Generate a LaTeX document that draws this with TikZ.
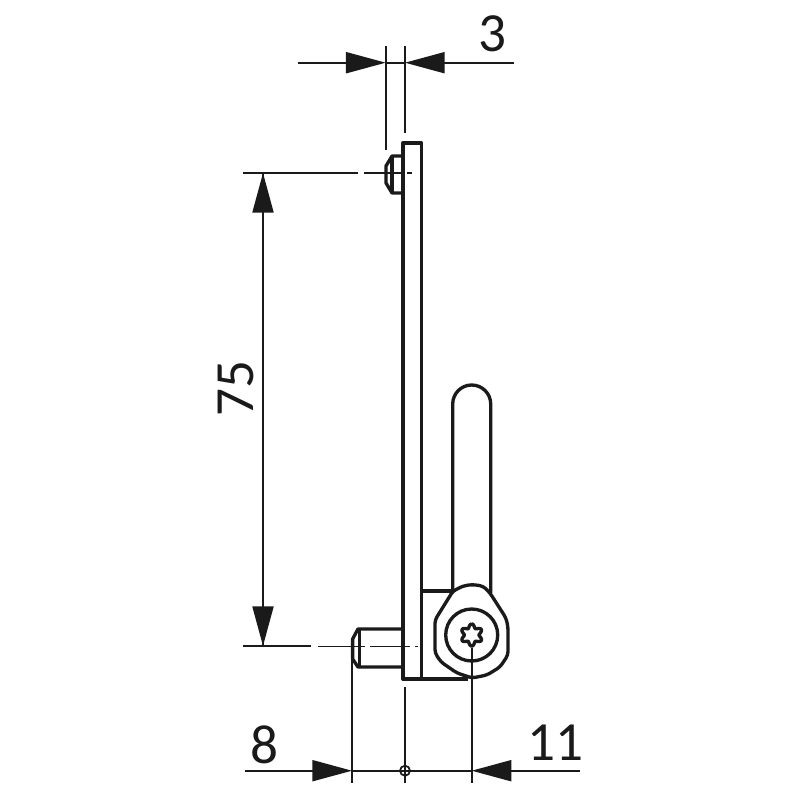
\documentclass[tikz,border=0pt]{standalone}
\usepackage{fontspec}
\setmainfont{Carlito}
\usetikzlibrary{arrows.meta}
\tikzstyle{drawing} = [x = .01cm, y = -.01cm]
\definecolor{partColor}{RGB}{26,26,26}
\tikzstyle{partLine} = [color=partColor, line width=.95pt, line join=round]
\tikzstyle{thinLine} = [color=partColor, line width=.5pt]
\tikzstyle{dimArrow} = [thinLine, -{Triangle[length=11.3pt, width=6pt]}]
\tikzstyle{dimText} = [font=\fontsize{15.7}{16}\selectfont, color=partColor, inner sep=0pt]
\newcommand{\extLine}[3]{\draw [thinLine] (#1, #2) -- (#1, #3);}
\begin{document}
\begin{tikzpicture}[drawing]
  \useasboundingbox (0,0) rectangle (800,800);
  % plate and screw pins
  \draw [partLine] (403,143) rectangle (421.5,679);
  \draw [partLine] (403,156) -- (392,156) -- (386,166) -- (386,183) -- (392,193) -- (403,193);
  \draw [partLine] (392,156) -- (392,193);
  \draw [partLine] (403,629) -- (358,629) -- (352.6,639) -- (352.6,659) -- (358,667) -- (403,667);
  \draw [partLine] (359.5,629) -- (359.5,667);
  % foot, lever and clamp head
  \draw [partLine] (453,591) -- (421.5,591);
  \draw [partLine] (403,679) -- (468,679);
  \draw [partLine] (452.7,591) -- (452.7,404) arc (180:360:19) -- (490.7,593);
  \draw [partLine, fill=white, rounded corners=1pt] (453,591) -- (463,586) -- (472,584.5) -- (483,586) -- (490,593) -- (506,618)
    -- (508,627) -- (508,655) -- (500,667) -- (487,675) -- (472,678) -- (457,673) -- (441,662) -- (435,653)
    -- (435,620) -- cycle;
  \draw [partLine] (471.7,635) circle (26);
  \draw [partLine] plot [domain=0:360, samples=73, smooth] ({471.7+(9.2+1.9*cos(6*\x))*sin(\x)}, {635-(9.2+1.9*cos(6*\x))*cos(\x)});
  % centre lines
  \draw [thinLine] (364,173) -- (403,173) (407,173) -- (412,173);
  \draw [thinLine] (318,646.6) -- (365,646.6) (370,646.6) -- (410,646.6) (415,646.6) -- (418,646.6);
  % dimension 3
  \coordinate (topLeftEnd) at (298,62.7);
  \coordinate (topLeftTip) at (385.7,62.7);
  \coordinate (topRightEnd) at (514,62.7);
  \coordinate (topRightTip) at (405,62.7);
  \extLine{385.7}{46}{150}
  \extLine{405}{46}{133}
  \draw [dimArrow] (topLeftEnd) -- (topLeftTip);
  \draw [dimArrow] (topRightEnd) -- (topRightTip);
  \draw [thinLine] (topLeftTip) -- (topRightTip);
  \node [dimText] (labelThree) at (492,34) {3};
  % dimension 75
  \coordinate (pitchUpperTip) at (263,173);
  \coordinate (pitchLowerTip) at (263,646);
  \draw [thinLine] (243,173) -- (358,173);
  \draw [thinLine] (243,646) -- (311,646);
  \draw [dimArrow] (pitchLowerTip) -- (pitchUpperTip);
  \draw [dimArrow] (pitchUpperTip) -- (pitchLowerTip);
  \node [dimText, rotate=90] (labelPitch) at (236,389) {75};
  % dimensions 8 and 11
  \coordinate (baseLeftEnd) at (245,770.7);
  \coordinate (baseLeftTip) at (352,770.7);
  \coordinate (baseRightEnd) at (580,770.7);
  \coordinate (baseRightTip) at (471.7,770.7);
  \extLine{352}{660}{783}
  \extLine{405}{687}{783}
  \extLine{471.7}{648}{783}
  \draw [dimArrow] (baseLeftEnd) -- (baseLeftTip);
  \draw [dimArrow] (baseRightEnd) -- (baseRightTip);
  \draw [thinLine] (baseLeftTip) -- (baseRightTip);
  \draw [thinLine] (405,770.7) circle (5);
  \node [dimText] (labelEight) at (264,745) {8};
  \node [dimText] (labelEleven) at (555,743) {11};
\end{tikzpicture}
\end{document}
